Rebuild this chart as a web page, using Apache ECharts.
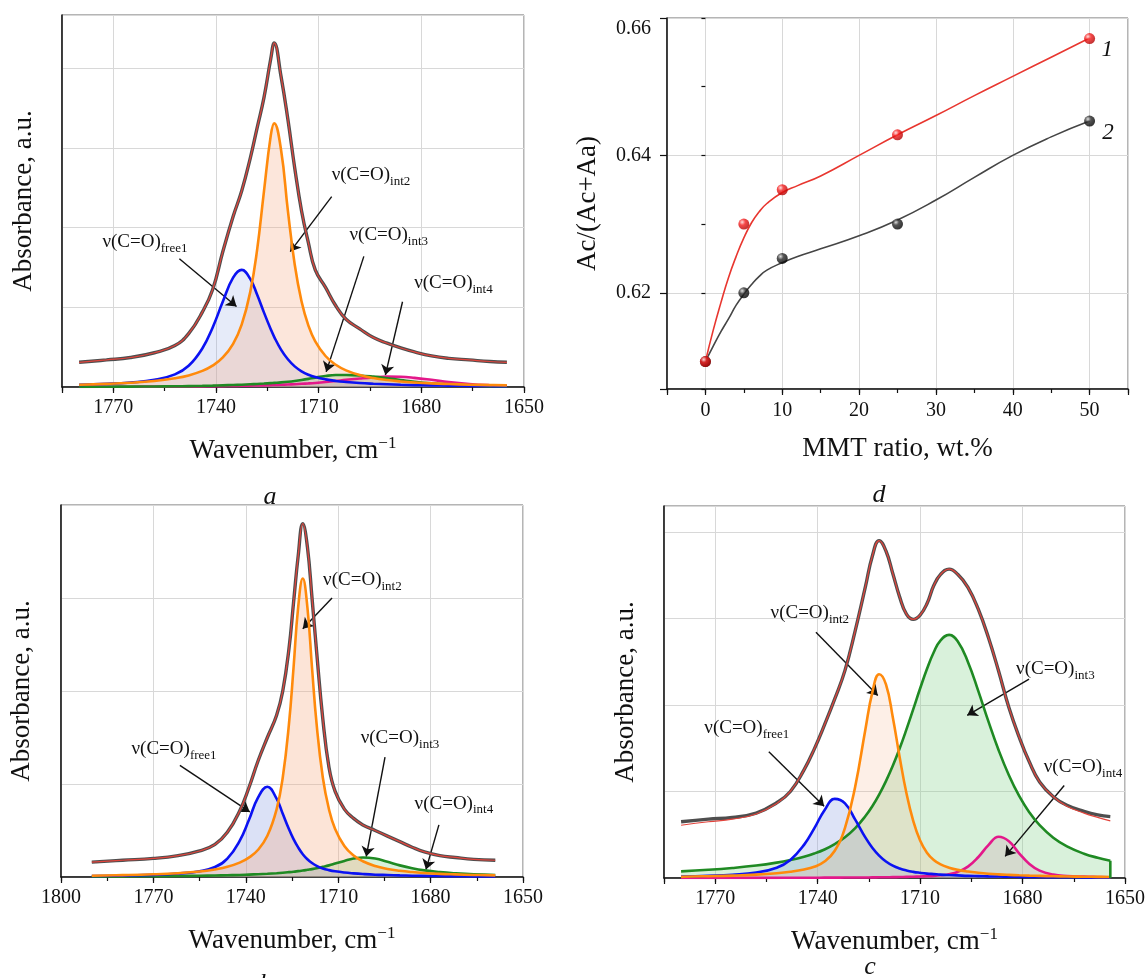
<!DOCTYPE html>
<html>
<head>
<meta charset="utf-8">
<script src="https://cdn.jsdelivr.net/npm/echarts@6/dist/echarts.min.js"></script>
<style>
  html, body { margin: 0; padding: 0; background: #fff; }
  #chart { width: 1148px; height: 978px; }
</style>
</head>
<body>
<div id="chart"></div>
<script>
// ---- Panel a: deconvoluted C=O band ----
const A_WN = [1780,1772,1765,1758,1752,1748,1744,1741,1738,1735,1732.5,1730,1728,1726,1724,1723,1721,1719,1717,1715,1713,1711,1708,1705,1702,1698,1694,1690,1686,1682,1677,1672,1666,1660,1655];
const A_TOTAL = [0.31,0.34,0.37,0.43,0.52,0.67,0.94,1.22,1.70,2.14,2.46,2.87,3.25,3.63,4.12,4.32,3.90,3.36,2.75,2.21,1.81,1.47,1.25,1.02,0.85,0.73,0.62,0.55,0.49,0.44,0.39,0.36,0.34,0.32,0.31];
const A_FREE1 = [0.027,0.039,0.057,0.090,0.158,0.266,0.484,0.745,1.073,1.373,1.470,1.357,1.162,0.937,0.725,0.630,0.470,0.348,0.259,0.197,0.154,0.125,0.096,0.076,0.063,0.050,0.041,0.034,0.028,0.024,0.020,0.017,0.014,0.012,0.010];
const A_INT2 = [0.029,0.039,0.053,0.076,0.110,0.145,0.202,0.268,0.371,0.542,0.783,1.191,1.718,2.450,3.155,3.310,2.979,2.214,1.537,1.073,0.771,0.573,0.389,0.279,0.209,0.150,0.112,0.087,0.070,0.057,0.045,0.037,0.029,0.024,0.021];
const A_INT3 = [0.003,0.004,0.005,0.007,0.009,0.011,0.014,0.017,0.021,0.025,0.029,0.034,0.038,0.043,0.049,0.052,0.058,0.066,0.076,0.088,0.102,0.118,0.138,0.150,0.151,0.145,0.130,0.110,0.088,0.066,0.045,0.030,0.018,0.011,0.007];
const A_INT4 = [0.002,0.003,0.004,0.005,0.006,0.007,0.008,0.010,0.011,0.013,0.015,0.017,0.019,0.021,0.024,0.025,0.028,0.031,0.035,0.040,0.045,0.051,0.062,0.075,0.090,0.106,0.120,0.130,0.128,0.115,0.090,0.062,0.038,0.022,0.014];

// ---- Panel b ----
const B_WN = [1790,1780,1770,1762,1755,1750,1746,1742,1739,1736,1733,1730,1728,1726,1724.5,1723,1721.5,1720,1718.5,1717,1715,1713,1711,1708,1705,1702,1698,1694,1690,1686,1682,1677,1672,1666,1659];
const B_TOTAL = [0.16,0.18,0.20,0.23,0.28,0.35,0.48,0.71,0.96,1.25,1.50,1.74,2.00,2.45,2.95,3.45,3.80,3.55,3.00,2.42,1.70,1.18,0.92,0.73,0.63,0.56,0.50,0.44,0.38,0.32,0.27,0.23,0.21,0.19,0.18];
const B_FREE1 = [0.010,0.015,0.023,0.037,0.062,0.107,0.197,0.388,0.612,0.856,0.970,0.842,0.680,0.515,0.407,0.318,0.245,0.191,0.150,0.120,0.092,0.074,0.061,0.048,0.039,0.032,0.025,0.021,0.017,0.014,0.012,0.010,0.009,0.007,0.006];
const B_INT2 = [0.014,0.020,0.029,0.041,0.059,0.082,0.109,0.154,0.208,0.293,0.443,0.728,1.070,1.640,2.250,2.900,3.210,2.900,2.250,1.640,1.070,0.728,0.517,0.334,0.231,0.169,0.118,0.087,0.067,0.053,0.043,0.034,0.028,0.022,0.017];
const B_INT3 = [0.005,0.007,0.008,0.011,0.014,0.016,0.019,0.022,0.026,0.030,0.035,0.041,0.046,0.052,0.057,0.063,0.069,0.077,0.085,0.094,0.109,0.125,0.144,0.173,0.198,0.210,0.198,0.163,0.125,0.094,0.071,0.052,0.039,0.028,0.021];

// ---- Panel c ----
const C_WN = [1780,1772,1765,1758,1752,1748,1744,1741,1738,1735,1732,1729,1726,1724,1722,1720,1718,1716,1714,1712,1710,1708,1706,1704,1701.5,1699,1696,1693,1690,1687,1684,1681,1678,1675,1671,1667,1662,1658,1654.3];
const C_MEASURED = [0.65,0.68,0.70,0.75,0.87,1.00,1.25,1.49,1.77,2.07,2.40,2.86,3.37,3.72,3.90,3.78,3.52,3.25,3.05,2.99,3.04,3.17,3.38,3.51,3.57,3.51,3.36,3.11,2.78,2.39,1.97,1.63,1.34,1.11,0.94,0.84,0.77,0.73,0.71];
const C_FIT = [0.61,0.65,0.68,0.74,0.86,1.00,1.25,1.49,1.77,2.07,2.40,2.86,3.37,3.72,3.90,3.78,3.52,3.25,3.05,2.99,3.04,3.17,3.38,3.51,3.57,3.51,3.36,3.11,2.78,2.39,1.97,1.63,1.34,1.11,0.94,0.83,0.75,0.70,0.66];
const C_FREE1 = [0.018,0.026,0.038,0.063,0.119,0.209,0.383,0.574,0.784,0.915,0.863,0.674,0.466,0.350,0.259,0.191,0.143,0.110,0.087,0.071,0.060,0.051,0.045,0.039,0.034,0.030,0.025,0.022,0.019,0.017,0.015,0.013,0.012,0.011,0.010,0.009,0.007,0.007,0.006];
const C_INT2 = [0.015,0.021,0.028,0.039,0.055,0.072,0.098,0.130,0.190,0.315,0.580,1.058,1.723,2.143,2.356,2.237,1.859,1.399,0.980,0.658,0.434,0.293,0.208,0.157,0.119,0.094,0.075,0.061,0.050,0.042,0.036,0.031,0.027,0.024,0.020,0.017,0.015,0.013,0.012];
const C_INT3 = [0.077,0.095,0.116,0.144,0.178,0.208,0.246,0.283,0.330,0.392,0.471,0.577,0.716,0.829,0.964,1.120,1.297,1.497,1.718,1.952,2.190,2.415,2.610,2.748,2.810,2.737,2.498,2.166,1.810,1.477,1.188,0.949,0.758,0.610,0.465,0.365,0.281,0.234,0.200];
const C_INT4 = [0.001,0.001,0.002,0.002,0.002,0.003,0.003,0.003,0.004,0.004,0.005,0.005,0.006,0.007,0.008,0.009,0.010,0.011,0.013,0.015,0.017,0.020,0.024,0.031,0.044,0.070,0.131,0.240,0.380,0.477,0.426,0.286,0.162,0.085,0.040,0.024,0.016,0.012,0.009];

// ---- Panel d: carbonyl ratio vs clay content ----
const D_RATIO = [0, 5, 10, 25, 50];
const D_SAMPLE1 = [0.610, 0.630, 0.635, 0.643, 0.657];
const D_SAMPLE2 = [0.610, 0.620, 0.625, 0.630, 0.645];
const D_TREND_X = [0,1,2,3,4,5,6,7,8,10,12,15,20,25,30,35,40,45,50];
const D_TREND1 = [0.6100,0.6145,0.6185,0.6222,0.6253,0.6280,0.6302,0.6318,0.6330,0.6346,0.6356,0.6370,0.6400,0.6430,0.6458,0.6487,0.6515,0.6543,0.6571];
const D_TREND2 = [0.6100,0.6122,0.6143,0.6162,0.6182,0.6198,0.6212,0.6224,0.6233,0.6244,0.6253,0.6264,0.6283,0.6306,0.6335,0.6368,0.6400,0.6427,0.6450];
const D_CURVE_LABELS = [['1', 52.3, 0.6554], ['2', 52.4, 0.6433]];

// Band assignments: [subscript, text anchor, arrow tail, arrow head]
const A_NOTES = [
  ['free1', [1773.2, 1.82], [1750.7, 1.61], [1734.0, 1.01]],
  ['int2',  [1706.2, 2.66], [1706.2, 2.39], [1718.3, 1.70]],
  ['int3',  [1701.0, 1.91], [1696.8, 1.64], [1707.8, 0.19]],
  ['int4',  [1682.1, 1.30], [1685.5, 1.07], [1690.5, 0.15]]
];
const B_NOTES = [
  ['free1', [1777.1, 1.38], [1761.4, 1.20], [1738.7, 0.70]],
  ['int2',  [1714.9, 3.19], [1712.0, 3.00], [1721.5, 2.67]],
  ['int3',  [1702.7, 1.49], [1694.8, 1.29], [1700.9, 0.22]],
  ['int4',  [1685.2, 0.79], [1677.3, 0.56], [1681.5, 0.08]]
];
const C_NOTES = [
  ['int2',  [1753.8, 3.06], [1740.5, 2.84], [1722.4, 2.11]],
  ['free1', [1773.2, 1.73], [1754.3, 1.46], [1738.1, 0.83]],
  ['int3',  [1681.9, 2.42], [1678.1, 2.30], [1696.2, 1.88]],
  ['int4',  [1673.8, 1.28], [1667.8, 1.07], [1685.1, 0.25]]
];

const SERIF = '"Liberation Serif", "Times New Roman", serif';
const INK = '#111111';
const GRIDLINE = '#d8d8d8';
const BAND = {
  free1: { line: '#0b12f2', fill: '#8ea2e2' },
  int2:  { line: '#ff8a0c', fill: '#f5a67c' },
  int3:  { line: '#1f8a23', fill: '#82d087' },
  int4:  { line: '#e3188a', fill: '#ef93c3' }
};
const SMOOTH = 0.45;

function pairs(xs, ys) { return xs.map((x, i) => [x, ys[i]]); }

const axisLineStyle = { show: true, onZero: false, lineStyle: { color: INK, width: 1.5 } };
const tickFont = { color: INK, fontFamily: SERIF, fontSize: 20 };

function wavenumberAxes(grid, max, lastLabel) {
  return [
    {
      gridIndex: grid, type: 'value', position: 'bottom', min: 1650, max: max, interval: 30, inverse: true,
      axisLine: axisLineStyle,
      axisTick: { show: true, inside: false, length: 6, lineStyle: { color: INK, width: 1.2 } },
      axisLabel: Object.assign({ margin: 11, formatter: v => (v % 30 === 0 && v <= lastLabel) ? String(v) : '' }, tickFont),
      splitLine: { show: true, lineStyle: { color: GRIDLINE, width: 1 } },
      name: 'Wavenumber, cm{sup|\u22121}', nameLocation: 'middle', nameGap: 48,
      nameTextStyle: {
        fontFamily: SERIF, fontSize: 27, color: INK, lineHeight: 32,
        rich: { sup: { fontFamily: SERIF, fontSize: 17, lineHeight: 17, verticalAlign: 'top', color: INK } }
      }
    },
    {
      gridIndex: grid, type: 'value', position: 'bottom', offset: 0, min: 1650, max: max, interval: 15, inverse: true,
      axisLine: { show: false },
      axisTick: { show: true, inside: false, length: 4, lineStyle: { color: INK, width: 1.2 } },
      axisLabel: { show: false }, splitLine: { show: false }
    }
  ];
}

function absorbanceAxis(grid, max, gap) {
  return {
    gridIndex: grid, type: 'value', position: 'left', min: 0, max: max, interval: 1,
    axisLine: axisLineStyle, axisTick: { show: false }, axisLabel: { show: false },
    splitLine: { show: true, lineStyle: { color: GRIDLINE, width: 1 } },
    name: 'Absorbance, a.u.', nameLocation: 'middle', nameRotate: 90, nameGap: gap,
    nameTextStyle: { fontFamily: SERIF, fontSize: 27, color: INK }
  };
}

function fillSeries(xi, yi, data, color, opacity) {
  return {
    type: 'line', xAxisIndex: xi, yAxisIndex: yi, data: data,
    smooth: SMOOTH, showSymbol: false, symbol: 'none', silent: true,
    lineStyle: { width: 0, opacity: 0 }, areaStyle: { color: color, opacity: opacity }, z: 2
  };
}
function curveSeries(xi, yi, data, color, width, z) {
  return {
    type: 'line', xAxisIndex: xi, yAxisIndex: yi, data: data,
    smooth: SMOOTH, showSymbol: false, symbol: 'none', silent: true,
    lineStyle: { color: color, width: width }, z: z
  };
}

function noteMarkers(notes) {
  return {
    markLine: {
      silent: true, animation: false, symbol: ['none', 'arrow'], symbolSize: 10,
      lineStyle: { color: INK, width: 1.4, type: 'solid' }, label: { show: false },
      emphasis: { disabled: true },
      data: notes.map(n => [{ coord: n[2] }, { coord: n[3] }])
    },
    markPoint: {
      silent: true, animation: false, symbol: 'circle', symbolSize: 0,
      itemStyle: { color: 'rgba(0,0,0,0)' },
      label: {
        show: true, position: 'right', distance: 0,
        formatter: p => '{m|\u03bd(C=O)}{s|' + p.name + '}',
        rich: {
          m: { fontFamily: SERIF, fontSize: 19, color: INK, lineHeight: 26 },
          s: { fontFamily: SERIF, fontSize: 13, color: INK, lineHeight: 14, verticalAlign: 'bottom' }
        }
      },
      data: notes.map(n => ({ name: n[0], coord: n[1] }))
    }
  };
}

function spectrumSeries(xi, yi, xs, comps, measured, fit, notes, fillOpacity) {
  const out = [];
  comps.forEach(c => out.push(fillSeries(xi, yi, pairs(xs, c.y), BAND[c.key].fill, fillOpacity[c.key])));
  comps.forEach(c => out.push(curveSeries(xi, yi, pairs(xs, c.y), BAND[c.key].line, 2.6, 5)));
  const total = curveSeries(xi, yi, pairs(xs, measured), '#4e4e4e', 3.4, 8);
  Object.assign(total, noteMarkers(notes));
  out.push(total);
  out.push(curveSeries(xi, yi, pairs(xs, fit), '#e2443c', 1.2, 9));
  return out;
}

function ball(c0, c1, c2) {
  return {
    type: 'radial', x: 0.35, y: 0.32, r: 0.7,
    colorStops: [{ offset: 0, color: c0 }, { offset: 0.4, color: c1 }, { offset: 1, color: c2 }]
  };
}

const series = [];
// a (grid 0 -> xAxis 0, yAxis 0)
series.push(...spectrumSeries(0, 0, A_WN, [
  { key: 'int4', y: A_INT4 }, { key: 'int3', y: A_INT3 }, { key: 'free1', y: A_FREE1 }, { key: 'int2', y: A_INT2 }
], A_TOTAL, A_TOTAL, A_NOTES, { free1: 0.22, int2: 0.28, int3: 0.3, int4: 0.3 }));
// b (grid 2 -> xAxis 4, yAxis 3)
series.push(...spectrumSeries(4, 3, B_WN, [
  { key: 'int3', y: B_INT3 }, { key: 'free1', y: B_FREE1 }, { key: 'int2', y: B_INT2 }
], B_TOTAL, B_TOTAL, B_NOTES, { free1: 0.32, int2: 0.3, int3: 0.3, int4: 0.3 }));
// c (grid 3 -> xAxis 6, yAxis 4)
series.push(...spectrumSeries(6, 4, C_WN, [
  { key: 'int4', y: C_INT4 }, { key: 'int3', y: C_INT3 }, { key: 'free1', y: C_FREE1 }, { key: 'int2', y: C_INT2 }
], C_MEASURED, C_FIT, C_NOTES, { free1: 0.3, int2: 0.18, int3: 0.3, int4: 0.3 }));
// closing edge of the int3 band area in c
const cLast = C_WN.length - 1;
series.push({
  type: 'line', xAxisIndex: 6, yAxisIndex: 4, silent: true, showSymbol: false, symbol: 'none',
  data: [[C_WN[cLast], C_INT3[cLast]], [C_WN[cLast], 0]],
  lineStyle: { color: BAND.int3.line, width: 2.6 }, z: 5
});

// d (grid 1 -> xAxis 2, yAxis 1)
series.push({
  type: 'line', xAxisIndex: 2, yAxisIndex: 1, data: pairs(D_TREND_X, D_TREND2),
  smooth: 0.5, showSymbol: false, symbol: 'none', silent: true,
  lineStyle: { color: '#454545', width: 1.6 }, z: 3
});
series.push({
  type: 'line', xAxisIndex: 2, yAxisIndex: 1, data: pairs(D_TREND_X, D_TREND1),
  smooth: 0.5, showSymbol: false, symbol: 'none', silent: true,
  lineStyle: { color: '#e8362f', width: 1.6 }, z: 3,
  markPoint: {
    silent: true, animation: false, symbol: 'circle', symbolSize: 0, itemStyle: { color: 'rgba(0,0,0,0)' },
    label: { show: true, position: 'inside', formatter: p => p.name, fontFamily: SERIF, fontStyle: 'italic', fontSize: 23, color: INK },
    data: D_CURVE_LABELS.map(l => ({ name: l[0], coord: [l[1], l[2]] }))
  }
});
series.push({
  type: 'scatter', xAxisIndex: 2, yAxisIndex: 1, data: pairs(D_RATIO, D_SAMPLE2), symbolSize: 11,
  itemStyle: { color: ball('#d8d8d8', '#2a2a2a', '#000000') }, z: 6, silent: true
});
series.push({
  type: 'scatter', xAxisIndex: 2, yAxisIndex: 1, data: pairs(D_RATIO, D_SAMPLE1), symbolSize: 11,
  itemStyle: { color: ball('#ffd6d6', '#f51c1c', '#b00000') }, z: 7, silent: true
});

const frame = { show: true, borderColor: '#6a6a6a', borderWidth: 1, backgroundColor: 'transparent' };

const option = {
  animation: false,
  backgroundColor: '#ffffff',
  grid: [
    Object.assign({ left: 62, top: 15, width: 462, height: 372 }, frame),   // a
    Object.assign({ left: 667, top: 18, width: 461, height: 371 }, frame),  // d
    Object.assign({ left: 61, top: 505, width: 462, height: 372 }, frame),  // b
    Object.assign({ left: 664, top: 506, width: 461, height: 372 }, frame)  // c
  ],
  xAxis: [
    ...wavenumberAxes(0, 1785, 1770),
    {
      gridIndex: 1, type: 'value', position: 'bottom', min: -5, max: 55, splitNumber: 6,
      axisLine: axisLineStyle,
      axisTick: { show: true, inside: false, length: 6, lineStyle: { color: INK, width: 1.2 } },
      axisLabel: Object.assign({ margin: 12, formatter: v => (v >= 0 && v <= 50 && v % 10 === 0) ? String(v) : '' }, tickFont),
      splitLine: { show: true, lineStyle: { color: GRIDLINE, width: 1 } },
      name: 'MMT ratio, wt.%', nameLocation: 'middle', nameGap: 44,
      nameTextStyle: { fontFamily: SERIF, fontSize: 27, color: INK, lineHeight: 32 }
    },
    {
      gridIndex: 1, type: 'value', position: 'bottom', offset: 0, min: -5, max: 55, interval: 5,
      axisLine: { show: false },
      axisTick: { show: true, inside: false, length: 4, lineStyle: { color: INK, width: 1.2 } },
      axisLabel: { show: false }, splitLine: { show: false }
    },
    ...wavenumberAxes(2, 1800, 1800),
    ...wavenumberAxes(3, 1785, 1770)
  ],
  yAxis: [
    absorbanceAxis(0, 4.67, 25),
    {
      gridIndex: 1, type: 'value', min: 0.606, max: 0.66, splitNumber: 3, position: 'left',
      axisLine: axisLineStyle,
      axisTick: { show: true, inside: false, length: 7, lineStyle: { color: INK, width: 1.2 } },
      axisLabel: Object.assign({
        margin: 16,
        formatter: v => {
          const k = Math.round(v * 100);
          if (Math.abs(v * 100 - k) > 1e-6 || k % 2 !== 0) return '';
          return k === 66 ? '{low|' + v.toFixed(2) + '}' : v.toFixed(2);
        },
        rich: { low: { fontFamily: SERIF, fontSize: 20, color: INK, padding: [22, 0, 0, 0] } }
      }, tickFont),
      splitLine: { show: true, lineStyle: { color: GRIDLINE, width: 1 } },
      name: 'Ac/(Ac+Aa)', nameLocation: 'middle', nameRotate: 90, nameGap: 66,
      nameTextStyle: { fontFamily: SERIF, fontSize: 27, color: INK }
    },
    {
      gridIndex: 1, type: 'value', min: 0.606, max: 0.66, splitNumber: 6, position: 'left', offset: 0,
      axisLine: { show: false },
      axisTick: { show: true, inside: false, length: 4, lineStyle: { color: INK, width: 1.2 } },
      axisLabel: { show: false }, splitLine: { show: false }
    },
    absorbanceAxis(2, 4, 26),
    absorbanceAxis(3, 4.3, 25)
  ],
  graphic: [
    ['a', 270, 497], ['d', 879, 495], ['b', 266, 984], ['c', 870, 967]
  ].map(l => ({
    type: 'text', x: l[1], y: l[2], silent: true,
    style: { text: l[0], font: 'italic 26px ' + SERIF, fill: INK, align: 'center', verticalAlign: 'middle', textAlign: 'center', textVerticalAlign: 'middle' }
  })),
  series: series
};

const chart = echarts.init(document.getElementById('chart'), null, { renderer: 'canvas' });
chart.setOption(option);
</script>
</body>
</html>
